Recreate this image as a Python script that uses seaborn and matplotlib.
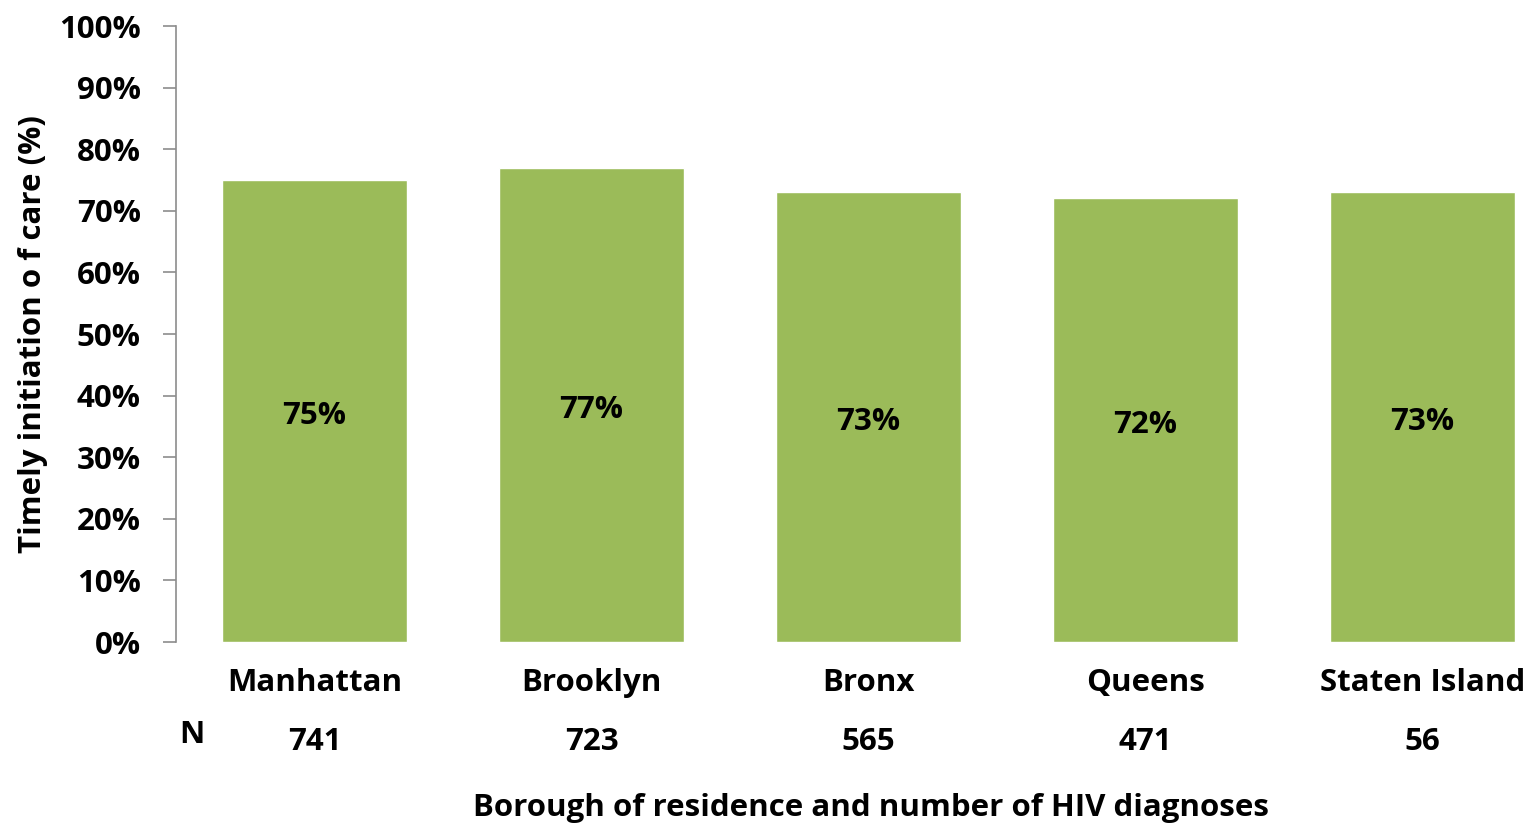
import matplotlib
matplotlib.use("Agg")
import matplotlib.pyplot as plt
import matplotlib.transforms as mtransforms
import pandas as pd
import seaborn as sns

boroughs = ["Manhattan", "Brooklyn", "Bronx", "Queens", "Staten Island"]
timely_pct = [75, 77, 73, 72, 73]
n_diagnoses = [741, 723, 565, 471, 56]

sns.set_style("white")
plt.rcParams["font.family"] = ["Open Sans", "DejaVu Sans"]
plt.rcParams["font.weight"] = "bold"
plt.rcParams["text.color"] = "black"
plt.rcParams["axes.labelcolor"] = "black"
plt.rcParams["xtick.color"] = "black"
plt.rcParams["ytick.color"] = "black"

FS = 22.5

df = pd.DataFrame({"borough": boroughs, "pct": timely_pct, "n": n_diagnoses})

fig = plt.figure(figsize=(15.26, 8.24), dpi=100)
ax = fig.add_axes([176 / 1526, 182 / 824, 1385 / 1526, 616 / 824])

sns.barplot(data=df, x="borough", y="pct", color="#9BBB59", saturation=1,
            width=0.667, ax=ax)

ax.set_xlim(-0.5, len(boroughs) - 0.5)
ax.set_ylim(0, 100)
ax.set_yticks(range(0, 101, 10))
ax.set_yticklabels([f"{v}%" for v in range(0, 101, 10)], fontsize=FS, fontweight="bold")
ax.tick_params(axis="y", direction="out", length=9.4, width=1.2, color="#8c8c8c",
               labelcolor="black", pad=16, left=True)
ax.tick_params(axis="x", length=0, pad=19, labelcolor="black")
ax.set_xticks(range(len(boroughs)))
ax.set_xticklabels(boroughs, fontsize=FS, fontweight="bold")

for side in ["top", "right", "bottom"]:
    ax.spines[side].set_visible(False)
ax.spines["left"].set_color("#8c8c8c")
ax.spines["left"].set_linewidth(1.2)

# value labels in bar middle (nudged down a few pixels)
val_trans = mtransforms.offset_copy(ax.transData, fig=fig, x=0, y=-5, units="dots")
for i, v in enumerate(timely_pct):
    ax.text(i, v / 2, f"{v}%", ha="center", va="center", fontsize=FS,
            fontweight="bold", transform=val_trans)

# N row below category labels
trans = mtransforms.blended_transform_factory(ax.transData, fig.transFigure)
for i, n in enumerate(n_diagnoses):
    ax.text(i, 1 - 742 / 824, str(n), ha="center", va="center", fontsize=FS,
            fontweight="bold", transform=trans)
fig.text(192 / 1526, 1 - 735 / 824, "N", ha="center", va="center", fontsize=FS, fontweight="bold")

ax.set_xlabel("")
ax.set_ylabel("Timely initiation o f care (%)", fontsize=FS, fontweight="bold", labelpad=8)
fig.text(871 / 1526, 1 - 808 / 824, "Borough of residence and number of HIV diagnoses",
         ha="center", va="center", fontsize=FS, fontweight="bold")

fig.savefig("out.png", dpi=100)
